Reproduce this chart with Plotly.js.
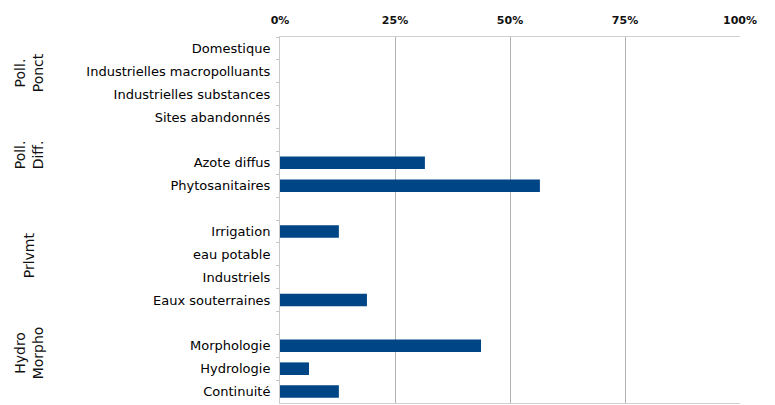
<!DOCTYPE html>
<html>
<head>
<meta charset="utf-8">
<script src="https://cdn.plot.ly/plotly-3.0.1.min.js"></script>
<style>html,body{margin:0;padding:0;background:#fff;}#chart{width:775px;height:405px;}</style>
</head>
<body>
<div id="chart"></div>
<script>
// Categories from top to bottom (blank entries are the gaps between groups)
const categories = [
  "Domestique", "Industrielles macropolluants", "Industrielles substances", "Sites abandonnés",
  " ",
  "Azote diffus", "Phytosanitaires",
  "  ",
  "Irrigation", "eau potable", "Industriels", "Eaux souterraines",
  "   ",
  "Morphologie", "Hydrologie", "Continuité"
];
// Share (0..1) for each category
const values = [
  0, 0, 0, 0,
  null,
  0.315, 0.565,
  null,
  0.128, 0, 0, 0.189,
  null,
  0.437, 0.063, 0.128
];
const groupLabels = ["Poll.<br>Ponct", "Poll.<br>Diff.", "Prlvmt", "Hydro<br>Morpho"];
const groupCenters = [73, 155, 255, 353]; // pixel rows of group labels
const xTicks = [0, 0.25, 0.5, 0.75, 1];

const H = 405, T = 37, B = 2;
const plotH = H - T - B;

const trace = {
  type: "bar",
  orientation: "h",
  y: categories,
  x: values,
  marker: {color: "#004586"},
  width: 0.55,
  hoverinfo: "x+y"
};

const annotations = groupLabels.map((t, i) => ({
  text: t,
  xref: "paper", yref: "paper",
  x: -0.545, xanchor: "center",
  y: 1 - (groupCenters[i] - T) / plotH, yanchor: "middle",
  textangle: -90,
  showarrow: false,
  font: {family: "DejaVu Sans", size: 14, color: "#111"}
}));

const layout = {
  width: 775, height: 405,
  margin: {l: 280, r: 35, t: T, b: B, pad: 0},
  paper_bgcolor: "#fff", plot_bgcolor: "#fff",
  showlegend: false,
  bargap: 0.45,
  xaxis: {
    side: "top",
    range: [0, 1],
    tickvals: xTicks,
    tickformat: ".0%",
    showgrid: true, gridcolor: "#b3b3b3", gridwidth: 1,
    zeroline: false,
    showline: true, linecolor: "#d0d0d0", mirror: true,
    ticks: "",
    ticklabelstandoff: 8,
    tickfont: {family: "DejaVu Sans", size: 11, color: "#111", weight: "bold"},
    fixedrange: true
  },
  yaxis: {
    type: "category",
    categoryorder: "array",
    categoryarray: categories,
    autorange: "reversed",
    showgrid: false,
    zeroline: false,
    showline: true, linecolor: "#c8c8c8",
    ticks: "outside", ticklen: 3, tickcolor: "#c8c8c8", tickson: "boundaries",
    ticklabelstandoff: 6,
    tickfont: {family: "DejaVu Sans", size: 13, color: "#000"},
    fixedrange: true
  },
  annotations: annotations
};

Plotly.newPlot("chart", [trace], layout, {displayModeBar: false, staticPlot: true});
</script>
</body>
</html>
